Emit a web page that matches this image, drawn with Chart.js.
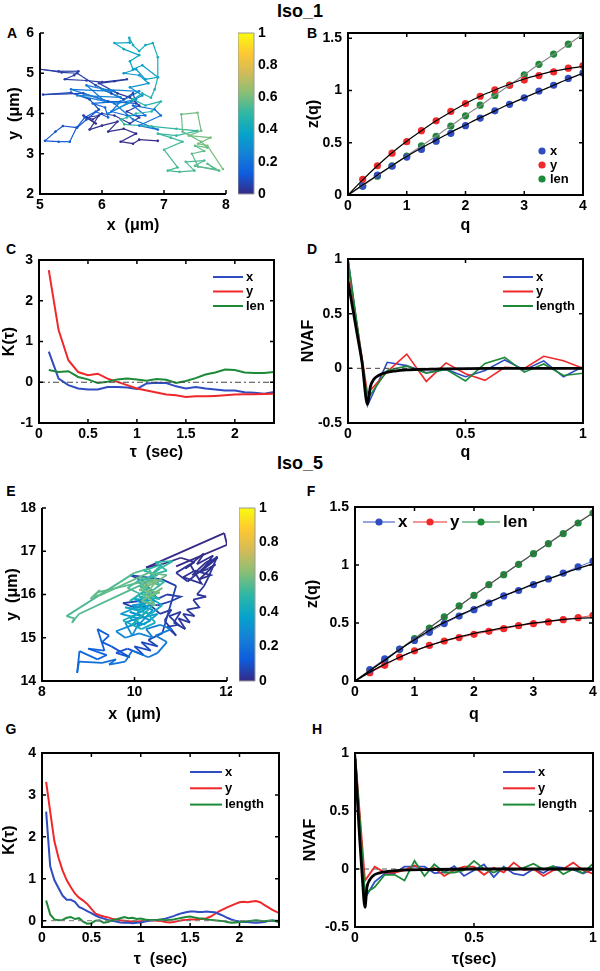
<!DOCTYPE html>
<html>
<head>
<meta charset="utf-8">
<script src="https://cdn.jsdelivr.net/npm/chart.js@4.4.1/dist/chart.umd.min.js"></script>
<style>
  body { margin: 0; background: #fff; }
  #fig { position: relative; width: 600px; height: 971px; font-family: Arial, "Liberation Sans", sans-serif; font-weight: bold; color: #000; }
  #fig canvas { position: absolute; }
  .lbl { position: absolute; font-size: 14px; transform: translate(-50%, -50%); }
  .ttl { position: absolute; font-size: 18px; transform: translate(-50%, -50%); }
</style>
</head>
<body>
<div id="fig">
  <div class="ttl" style="left:300px;top:11px">Iso_1</div>
  <div class="ttl" style="left:300px;top:463px">Iso_5</div>
  <div class="lbl" style="left:12px;top:33px">A</div>
  <div class="lbl" style="left:312px;top:33px">B</div>
  <div class="lbl" style="left:11px;top:249px">C</div>
  <div class="lbl" style="left:312px;top:249px">D</div>
  <div class="lbl" style="left:11px;top:491px">E</div>
  <div class="lbl" style="left:311px;top:491px">F</div>
  <div class="lbl" style="left:11px;top:729px">G</div>
  <div class="lbl" style="left:317px;top:729px">H</div>
</div>
<script>
"use strict";

// Data

// A - trajectory Iso_1 (um), in time order, split in colour phases
let aX = [6.9, 6.6, 6.5, 6.3, 6.55, 6.35, 6.1, 6.25, 6.0, 5.8, 5.95, 5.75, 5.9, 5.7, 5.85, 6.0, 6.2, 6.45, 6.6, 6.4, 6.6, 6.45, 6.25, 5.95, 6.2, 6.4, 6.0, 5.75, 5.4, 5.55, 5.62, 5.3, 5.0, 5.35, 5.6, 5.9, 6.15, 6.35, 6.5, 6.55,
  6.1, 5.7, 5.05, 5.5, 5.8, 5.95, 5.75, 5.6, 5.37, 5.25, 5.08, 5.3, 5.48, 5.59, 5.72, 5.9, 6.1, 6.05, 5.85, 6.3, 6.15, 6.4, 6.7, 6.5, 6.85, 6.95, 6.6, 6.9, 6.5, 6.2,
  5.5, 6.2, 5.75, 6.05, 5.6, 6.3, 6.0, 6.6, 6.25, 6.55, 6.1, 6.4, 6.65, 6.45, 6.75, 6.6, 6.35, 6.55, 6.7, 6.9, 6.65, 6.5,
  6.45, 6.6, 6.35, 6.2, 6.45, 6.44, 6.5, 6.6, 6.7, 6.82, 6.9, 6.9, 6.85, 6.79, 6.65, 6.5, 6.7, 6.95, 6.8, 6.55, 6.4, 6.3,
  6.36, 6.8, 7.2, 7.54, 7.2, 6.9, 7.11, 7.3, 7.0, 7.22, 7.06, 7.25, 7.49, 7.35, 7.65, 7.5, 7.89, 7.7, 7.82, 7.55, 7.45, 7.65, 7.5, 7.7, 7.6, 7.3, 7.28, 7.54, 7.6, 7.4, 7.75, 7.55, 7.7, 7.95];
let aY = [3.32, 3.35, 3.25, 3.3, 3.5, 3.62, 3.55, 3.8, 3.7, 3.6, 3.95, 3.9, 3.75, 3.95, 3.85, 4.0, 3.95, 3.75, 3.9, 4.05, 4.2, 4.4, 4.5, 4.75, 4.8, 4.85, 4.78, 4.82, 4.85, 4.95, 5.05, 5.05, 5.1, 5.02, 5.0, 4.7, 4.5, 4.35, 4.5, 4.25,
  4.3, 4.5, 4.47, 4.52, 4.35, 4.1, 3.85, 3.65, 3.69, 3.55, 3.32, 3.3, 3.3, 3.65, 3.9, 4.05, 3.9, 4.15, 4.25, 4.3, 4.05, 3.95, 3.95, 4.2, 4.1, 3.95, 3.7, 3.6, 3.85, 4.25,
  4.6, 4.55, 4.7, 4.3, 4.45, 4.4, 4.6, 4.55, 4.25, 4.35, 4.0, 4.25, 4.45, 4.65, 4.75, 4.95, 5.0, 5.1, 4.85, 4.9, 5.2, 5.1,
  5.3, 5.45, 5.6, 5.75, 5.76, 5.88, 5.7, 5.55, 5.7, 5.75, 5.4, 4.9, 4.6, 4.39, 4.5, 4.35, 4.2, 4.3, 4.05, 4.0, 3.9, 3.85,
  3.73, 3.68, 3.62, 3.57, 3.45, 3.5, 3.4, 3.3, 3.1, 2.66, 2.58, 2.55, 2.58, 2.8, 2.83, 2.7, 2.58, 2.75, 2.62, 2.68, 3.0, 3.07, 3.2, 3.15, 3.3, 3.55, 3.98, 4.02, 3.57, 3.45, 3.4, 3.25, 3.2, 2.62];
let aPhaseN = [40, 30, 22, 22, 34];
let aPhaseT = [0, 0.06, 0.22, 0.38, 0.5, 0.62];

// E - trajectory Iso_5 (um), in time order, split in colour phases
let eX = [10.9, 12.0, 11.94, 10.25, 10.6, 11.0, 11.3, 11.1, 11.5, 11.35, 11.7, 11.45, 11.8, 11.55, 11.25, 11.6, 11.75, 11.4, 11.65, 11.3, 11.05, 11.45, 11.2, 10.9, 11.15, 11.79, 11.6, 11.5, 11.35, 11.55,
  11.27, 11.4, 11.13, 11.3, 11.05, 11.2, 10.95, 11.1, 10.85, 11.0, 10.75, 10.95, 10.7, 10.9, 10.65, 10.8, 10.55, 10.35, 10.0, 9.75, 10.1, 10.5, 10.8, 11.0, 10.7, 10.5, 10.2, 9.9, 10.6, 10.9,
  10.6, 10.3, 10.5, 10.15, 10.35, 10.0, 10.2, 9.85, 9.6, 9.9, 9.5, 9.3, 9.45, 9.2, 9.35, 9.0, 9.4, 9.2, 8.81, 8.76,
  8.8, 9.3, 9.6, 9.45, 9.8, 9.95, 10.3, 10.5, 10.7, 10.45, 10.8, 10.55, 10.25, 10.4, 10.1, 9.8, 9.6, 9.85, 10.1, 9.95,
  9.8, 10.2, 9.9, 10.35, 10.05, 10.4, 9.95, 10.25, 9.7, 10.1, 10.5, 10.2, 9.9, 10.3, 10.0, 10.45, 10.15, 9.8, 10.35, 10.6, 10.3, 10.05, 9.75, 10.15, 10.45, 10.25, 9.95, 10.4, 10.1, 10.55, 10.2, 9.9,
  10.3, 10.05, 10.5, 10.2, 10.6, 10.35, 10.7, 10.45, 10.83, 10.55, 10.25, 10.65, 10.4, 10.1, 10.45, 10.15, 9.85, 10.2, 10.55, 10.3, 10.0, 8.53, 8.7, 8.65, 8.8, 9.6,
  10.4, 9.2, 9.05, 9.25, 9.1, 9.3, 10.3, 10.7, 10.4, 10.1, 10.55, 10.3, 10.6, 10.15, 10.45, 10.25, 10.5, 10.2];
let eY = [16.65, 17.15, 17.42, 16.62, 16.7, 16.85, 16.75, 16.6, 16.95, 16.7, 16.9, 16.55, 16.85, 16.75, 16.45, 16.6, 16.7, 16.35, 16.45, 16.55, 16.4, 16.25, 16.7, 16.5, 16.3, 16.88, 16.4, 16.19, 16.0, 15.95,
  15.88, 15.7, 15.65, 15.5, 15.55, 15.35, 15.45, 15.2, 15.35, 15.6, 15.5, 15.3, 15.25, 15.05, 15.4, 15.65, 15.55, 15.75, 15.7, 15.8, 15.85, 15.75, 15.85, 15.95, 16.0, 15.9, 16.3, 16.45, 16.35, 16.2,
  15.1, 14.95, 14.8, 14.9, 14.7, 14.8, 14.6, 14.75, 14.65, 14.55, 14.8, 14.9, 15.05, 15.2, 14.7, 14.75, 14.6, 14.5, 14.69, 14.19,
  14.45, 14.42, 14.5, 14.38, 14.45, 14.7, 14.55, 14.65, 14.9, 15.05, 15.2, 15.3, 15.2, 15.0, 15.1, 15.0, 15.15, 15.25, 15.35, 15.05,
  15.35, 15.5, 15.6, 15.4, 15.25, 15.65, 15.75, 15.8, 15.55, 15.45, 15.55, 15.3, 15.45, 15.7, 15.9, 15.85, 15.65, 15.7, 15.55, 15.75, 15.95, 15.55, 15.4, 15.2, 15.35, 15.6, 15.3, 15.75, 15.95, 15.9, 16.05, 15.85,
  16.15, 16.3, 16.45, 16.55, 16.7, 16.45, 16.55, 16.75, 16.77, 16.6, 16.35, 16.3, 16.1, 16.2, 15.95, 16.0, 16.15, 16.4, 16.2, 16.6, 16.5, 15.5, 15.45, 15.35, 15.55, 15.95,
  16.35, 16.05, 15.9, 16.1, 15.95, 16.0, 16.5, 16.45, 16.25, 16.1, 16.05, 15.95, 16.15, 15.85, 15.75, 16.0, 16.35, 16.2];
let ePhaseN = [60, 40, 32, 44];
let ePhaseT = [0, 0.06, 0.3, 0.48, 0.62];

// B, F - z(q)
let qVals = [0.25, 0.5, 0.75, 1, 1.25, 1.5, 1.75, 2, 2.25, 2.5, 2.75, 3, 3.25, 3.5, 3.75, 4];
let qFit = [0, 0.25, 0.5, 0.75, 1, 1.25, 1.5, 1.75, 2, 2.25, 2.5, 2.75, 3, 3.25, 3.5, 3.75, 4];
let bX = [0.085, 0.19, 0.275, 0.363, 0.436, 0.515, 0.59, 0.663, 0.736, 0.805, 0.868, 0.93, 0.995, 1.05, 1.115, 1.168];
let bY = [0.15, 0.28, 0.4, 0.51, 0.615, 0.71, 0.8, 0.875, 0.945, 1.005, 1.05, 1.1, 1.143, 1.178, 1.213, 1.238];
let bLen = [0.085, 0.18, 0.28, 0.373, 0.47, 0.562, 0.66, 0.758, 0.859, 0.953, 1.052, 1.15, 1.25, 1.348, 1.443, 1.538];
let bFitX = [0, 0.095, 0.19, 0.28, 0.37, 0.45, 0.525, 0.6, 0.67, 0.74, 0.805, 0.87, 0.93, 0.99, 1.05, 1.11, 1.165];
let bFitY = [0, 0.145, 0.28, 0.405, 0.515, 0.615, 0.71, 0.795, 0.875, 0.945, 1.005, 1.06, 1.11, 1.15, 1.185, 1.21, 1.23];
let bFitLen = [0, 0.09, 0.185, 0.28, 0.375, 0.47, 0.565, 0.66, 0.76, 0.855, 0.955, 1.05, 1.15, 1.25, 1.345, 1.44, 1.54];
let fX = [0.098, 0.19, 0.275, 0.35, 0.42, 0.495, 0.56, 0.615, 0.672, 0.733, 0.78, 0.83, 0.88, 0.93, 0.983, 1.034];
let fY = [0.072, 0.135, 0.207, 0.26, 0.307, 0.345, 0.374, 0.402, 0.428, 0.451, 0.477, 0.494, 0.509, 0.529, 0.546, 0.566];
let fLen = [0.092, 0.178, 0.273, 0.365, 0.457, 0.552, 0.647, 0.738, 0.83, 0.917, 1.006, 1.098, 1.184, 1.27, 1.362, 1.448];
let fFitX = [0, 0.09, 0.18, 0.27, 0.355, 0.435, 0.505, 0.565, 0.625, 0.68, 0.735, 0.785, 0.835, 0.88, 0.925, 0.97, 1.01];
let fFitY = [0, 0.075, 0.145, 0.205, 0.26, 0.305, 0.345, 0.38, 0.41, 0.435, 0.46, 0.48, 0.5, 0.515, 0.53, 0.54, 0.545];
let fFitLen = [0, 0.09, 0.18, 0.275, 0.365, 0.46, 0.55, 0.645, 0.74, 0.83, 0.92, 1.01, 1.1, 1.185, 1.275, 1.365, 1.45];

// C - K(tau), Iso_1
let cTau = [0.1, 0.2, 0.3, 0.4, 0.5, 0.6, 0.7, 0.8, 0.9, 1.0, 1.1, 1.2, 1.3, 1.4, 1.5, 1.6, 1.7, 1.8, 1.9, 2.0, 2.1, 2.2, 2.3, 2.4];
let cX = [0.75, 0.09, -0.07, -0.155, -0.18, -0.18, -0.115, -0.115, -0.13, -0.165, -0.03, -0.01, -0.02, -0.1, -0.155, -0.115, -0.155, -0.18, -0.2, -0.2, -0.245, -0.255, -0.28, -0.24];
let cY = [2.75, 1.28, 0.54, 0.25, 0.17, 0.21, 0.09, 0.01, -0.07, -0.155, -0.2, -0.25, -0.3, -0.32, -0.36, -0.345, -0.345, -0.335, -0.32, -0.3, -0.295, -0.295, -0.29, -0.28];
let cLen = [0.3, 0.25, 0.27, 0.13, 0.07, -0.02, 0.01, 0.07, 0.09, 0.065, 0.04, 0.08, 0.06, -0.02, 0.03, 0.1, 0.19, 0.24, 0.31, 0.3, 0.24, 0.23, 0.23, 0.25];

// D - NVAF, Iso_1
let dLag = [0, 0.083, 0.167, 0.25, 0.333, 0.417, 0.5, 0.583, 0.667, 0.75, 0.833, 0.917, 1];
let dX = [1, -0.34, 0.055, 0.025, -0.04, -0.01, -0.077, -0.02, 0.077, -0.015, 0.068, -0.077, 0.015];
let dY = [0.94, -0.23, -0.03, 0.13, -0.12, 0.05, -0.05, -0.11, 0.01, 0, 0.11, 0.07, 0];
let dLen = [1, -0.28, -0.02, 0.02, -0.045, -0.01, -0.115, 0.045, 0.1, -0.035, 0.04, -0.065, -0.045];
let dFitLag = [0, 0.02, 0.04, 0.06, 0.083, 0.095, 0.11, 0.13, 0.16, 0.2, 0.25, 0.3, 0.4, 0.6, 1];
let dFitVal = [0.8, 0.55, 0.3, 0.05, -0.33, -0.17, -0.1, -0.065, -0.04, -0.025, -0.015, -0.01, -0.005, 0, 0];

// G - K(tau), Iso_5
let gTau = [0.042, 0.083, 0.125, 0.167, 0.208, 0.25, 0.292, 0.333, 0.375, 0.417, 0.458, 0.5, 0.542, 0.583, 0.625, 0.667, 0.708, 0.75, 0.792, 0.833, 0.875, 0.917, 0.958, 1,
  1.042, 1.083, 1.125, 1.167, 1.208, 1.25, 1.292, 1.333, 1.375, 1.417, 1.458, 1.5, 1.542, 1.583, 1.625, 1.667, 1.708, 1.75, 1.792, 1.833, 1.875, 1.917, 1.958, 2,
  2.042, 2.083, 2.125, 2.167, 2.208, 2.25, 2.292, 2.333, 2.375, 2.417];
let gX = [2.6, 1.3, 0.97, 0.78, 0.6, 0.5, 0.5, 0.45, 0.33, 0.28, 0.23, 0.18, 0.12, 0.08, 0.05, 0.02, 0, -0.02, -0.04, -0.05, -0.05, -0.06, -0.05, -0.04,
  -0.02, 0, 0.01, 0.02, 0.03, 0.05, 0.08, 0.11, 0.15, 0.18, 0.2, 0.22, 0.22, 0.21, 0.21, 0.22, 0.21, 0.2, 0.16, 0.12, 0.07, 0.03, 0, -0.02,
  -0.03, -0.03, -0.04, -0.05, -0.04, -0.03, -0.01, 0, 0, 0];
let gY = [3.31, 2.6, 1.9, 1.5, 1.2, 0.97, 0.8, 0.65, 0.55, 0.48, 0.4, 0.28, 0.17, 0.13, 0.1, 0.08, 0.05, 0.03, 0.01, 0, -0.01, -0.02, -0.02, -0.01,
  0, 0.01, 0.01, 0, -0.01, -0.03, -0.04, -0.03, -0.01, 0.01, 0.02, 0.03, 0.03, 0.04, 0.04, 0.06, 0.1, 0.16, 0.22, 0.27, 0.32, 0.36, 0.4, 0.44,
  0.45, 0.44, 0.46, 0.47, 0.44, 0.38, 0.32, 0.26, 0.21, 0.18];
let gLen = [0.48, 0.15, 0.03, 0.01, 0.02, 0.07, 0.09, 0.04, 0.06, -0.02, -0.07, -0.06, 0, 0.01, -0.05, -0.03, 0.01, 0.03, 0.06, 0.09, 0.06, 0.07, 0.04, 0.05,
  0.03, 0.02, 0.01, 0.02, 0.03, 0.01, 0.02, 0.03, 0.05, 0.07, 0.09, 0.1, 0.08, 0.06, 0.05, 0.03, 0.02, 0.01, 0, -0.01, -0.03, -0.05, -0.04, -0.03,
  -0.02, -0.01, 0, 0.01, 0, -0.01, 0, 0.01, -0.02, -0.05];

// H - NVAF, Iso_5
let hLag = [0, 0.042, 0.083, 0.125, 0.167, 0.208, 0.25, 0.292, 0.333, 0.375, 0.417, 0.458, 0.5, 0.542, 0.583, 0.625, 0.667, 0.708, 0.75, 0.792, 0.833, 0.875, 0.917, 0.958, 1];
let hX = [1, -0.25, -0.11, -0.04, -0.035, 0.02, 0.02, 0.02, -0.035, -0.03, 0.025, -0.06, -0.01, 0.04, -0.07, 0.02, -0.04, -0.055, 0, -0.035, 0.02, 0.01, -0.005, -0.04, 0];
let hY = [1, -0.1, 0.02, -0.03, -0.03, -0.01, 0.03, -0.01, 0.01, -0.06, -0.01, 0.02, 0.02, -0.05, 0.01, -0.03, 0.055, -0.01, 0, -0.06, -0.01, 0, 0.055, -0.01, -0.04];
let hLen = [1, -0.21, -0.155, -0.05, -0.05, -0.1, 0.07, -0.06, 0.04, -0.03, -0.03, -0.01, 0.07, 0, -0.03, 0.01, -0.01, 0.01, 0.045, -0.005, 0.025, -0.045, 0, -0.035, 0.045];
let hFitLag = [0, 0.01, 0.02, 0.03, 0.042, 0.05, 0.06, 0.075, 0.1, 0.15, 0.2, 0.3, 0.5, 1];
let hFitVal = [0.95, 0.6, 0.25, -0.05, -0.33, -0.16, -0.1, -0.06, -0.035, -0.018, -0.01, -0.005, 0, 0];

// Tick labels
let aXTicks = [5, 6, 7, 8], aYTicks = [2, 3, 4, 5, 6];
let eXTicks = [8, 10, 12], eYTicks = [14, 15, 16, 17, 18];
let qTicks = [0, 1, 2, 3, 4], zTicks = [0, 0.5, 1, 1.5];
let tauTicks = [0, 0.5, 1, 1.5, 2];
let cYTicks = [-1, 0, 1, 2, 3], gYTicks = [0, 1, 2, 3, 4];
let lagTicks = [0, 0.5, 1], nvafTicks = [-0.5, 0, 0.5, 1];
let cbTicks = [0, 0.2, 0.4, 0.6, 0.8, 1];

// Colours
let BLUE = "#2f4cc0", RED = "#f0282a", GREEN = "#1d8a3a", GREY = "#8a8a8a";
let parulaStops = ["#352a87", "#0f5cdd", "#1481d6", "#06a4ca", "#2eb7a4", "#87bf77", "#d1bb59", "#fec832", "#f9fb0e"];

const FONT = "Arial, 'Liberation Sans', sans-serif";
const tickFont = { family: FONT, size: 14, weight: "bold" };
const titleFont = { family: FONT, size: 16, weight: "bold", lineHeight: 1 };
const fig = document.getElementById("fig");

function hexRgb(h) {
  return [1, 3, 5].map(i => parseInt(h.substr(i, 2), 16));
}

function parula(t) {
  t = Math.max(0, Math.min(1, t));
  let s = t * (parulaStops.length - 1);
  let i = Math.min(Math.floor(s), parulaStops.length - 2);
  let f = s - i;
  let a = hexRgb(parulaStops[i]), b = hexRgb(parulaStops[i + 1]);
  let c = a.map((v, k) => Math.round(v + (b[k] - v) * f));
  return `rgb(${c[0]},${c[1]},${c[2]})`;
}

function pts(xs, ys) {
  return xs.map((x, i) => ({ x: x, y: ys[i] }));
}

// Axes lines and inward ticks, drawn over the data like matlab does
const framePlugin = {
  id: "frame",
  afterDatasetsDraw(chart, args, o) {
    if (!o || !o.show) return;
    let { ctx, chartArea: a, scales } = chart;
    ctx.save();
    ctx.strokeStyle = o.color || "#000";
    ctx.lineWidth = o.width || 2;
    ctx.beginPath();
    if (o.box) {
      ctx.rect(a.left, a.top, a.right - a.left, a.bottom - a.top);
    } else {
      ctx.moveTo(a.left, a.top);
      ctx.lineTo(a.left, a.bottom);
      ctx.lineTo(a.right, a.bottom);
    }
    ctx.stroke();
    if (o.ticks !== false) {
      let L = 4;
      ctx.lineWidth = 1.5;
      ctx.beginPath();
      scales.x.ticks.forEach(t => {
        let px = scales.x.getPixelForValue(t.value);
        ctx.moveTo(px, a.bottom); ctx.lineTo(px, a.bottom - L);
        if (o.box) { ctx.moveTo(px, a.top); ctx.lineTo(px, a.top + L); }
      });
      scales.y.ticks.forEach(t => {
        let py = scales.y.getPixelForValue(t.value);
        ctx.moveTo(a.left, py); ctx.lineTo(a.left + L, py);
        if (o.box) { ctx.moveTo(a.right, py); ctx.lineTo(a.right - L, py); }
      });
      ctx.stroke();
    }
    ctx.restore();
  }
};

// Legend drawn inside the axes
const keyPlugin = {
  id: "keys",
  afterDraw(chart, args, o) {
    if (!o || !o.items) return;
    let { ctx, chartArea: a } = chart;
    ctx.save();
    ctx.font = "bold " + o.size + "px " + FONT;
    ctx.textBaseline = "middle";
    o.items.forEach((it, i) => {
      let x0 = a.left + (it.x !== undefined ? it.x : o.x);
      let y = a.top + (it.y !== undefined ? it.y : o.y + i * o.dy);
      let len = it.len !== undefined ? it.len : o.len;
      let x1 = x0 + len;
      if (len > 0) {
        ctx.strokeStyle = it.color;
        ctx.lineWidth = o.lw || 2;
        ctx.beginPath(); ctx.moveTo(x0, y); ctx.lineTo(x1, y); ctx.stroke();
      }
      if (o.dot) {
        ctx.fillStyle = it.color;
        ctx.beginPath(); ctx.arc((x0 + x1) / 2, y, o.dot, 0, Math.PI * 2); ctx.fill();
      }
      ctx.fillStyle = "#000";
      ctx.fillText(it.label, x1 + o.gap, y);
    });
    ctx.restore();
  }
};

Chart.register(framePlugin, keyPlugin);

function axis(min, max, ticks, title, pad) {
  return {
    type: "linear",
    min: min,
    max: max,
    afterBuildTicks: s => { s.ticks = ticks.map(v => ({ value: v })); },
    ticks: { color: "#000", font: tickFont, padding: pad, autoSkip: false, maxRotation: 0, callback: v => String(v) },
    grid: { display: false, drawTicks: false },
    border: { display: false },
    title: { display: !!title, text: title, color: "#000", font: titleFont, padding: 0 }
  };
}

function addCanvas(box) {
  let cv = document.createElement("canvas");
  cv.width = box[2] - box[0];
  cv.height = box[3] - box[1];
  cv.style.left = box[0] + "px";
  cv.style.top = box[1] + "px";
  fig.appendChild(cv);
  return cv;
}

// box = canvas [left, top, right, bottom], area = plot area [l, t, r, b], page pixels
function makePanel(box, area, datasets, sx, sy, plugins) {
  let cv = addCanvas(box);
  sx.afterFit = s => { s.height = box[3] - area[3]; s.paddingLeft = 0; s.paddingRight = 0; };
  sy.afterFit = s => { s.width = area[0] - box[0]; s.paddingTop = 0; s.paddingBottom = 0; };
  return new Chart(cv, {
    type: "scatter",
    data: { datasets: datasets },
    options: {
      responsive: false,
      animation: false,
      events: [],
      layout: { padding: { left: 0, top: area[1] - box[1], right: box[2] - area[2], bottom: 0 } },
      scales: { x: sx, y: sy },
      plugins: Object.assign({ legend: { display: false }, tooltip: { enabled: false } }, plugins)
    }
  });
}

function makeColorbar(box, area) {
  let cv = addCanvas(box);
  let sy = axis(0, 1, cbTicks, "", 4);
  sy.position = "right";
  sy.afterFit = s => { s.width = box[2] - area[2]; s.paddingTop = 0; s.paddingBottom = 0; };
  return new Chart(cv, {
    type: "bar",
    data: {
      labels: [""],
      datasets: [{
        data: [[0, 1]],
        barPercentage: 1,
        categoryPercentage: 1,
        borderWidth: 0,
        backgroundColor: c => {
          let a = c.chart.chartArea;
          if (!a) return "#888";
          let g = c.chart.ctx.createLinearGradient(0, a.bottom, 0, a.top);
          parulaStops.forEach((s, i) => g.addColorStop(i / (parulaStops.length - 1), s));
          return g;
        }
      }]
    },
    options: {
      responsive: false,
      animation: false,
      events: [],
      layout: { padding: { left: area[0] - box[0], top: area[1] - box[1], right: 0, bottom: box[3] - area[3] } },
      scales: { x: { display: false }, y: sy },
      plugins: { legend: { display: false }, tooltip: { enabled: false }, frame: { show: true, box: true, width: 1, color: "#9a9a9a", ticks: false } }
    }
  });
}

function line(data, color, w, extra) {
  return Object.assign({ data: data, showLine: true, borderColor: color, borderWidth: w, pointRadius: 0, fill: false, tension: 0 }, extra || {});
}

function dots(data, color, r) {
  return { data: data, showLine: false, backgroundColor: color, borderColor: color, borderWidth: 0, pointRadius: r };
}

// colour value of point i from the phase lengths and phase time limits
function phaseTime(i, counts, times) {
  let start = 0;
  for (let p = 0; p < counts.length; p++) {
    if (i < start + counts[p] || p === counts.length - 1) {
      let f = (i - start) / counts[p];
      return times[p] + (times[p + 1] - times[p]) * Math.min(f, 1);
    }
    start += counts[p];
  }
  return times[times.length - 1];
}

function track(xs, ys, counts, times, w, r) {
  let col = i => parula(phaseTime(i, counts, times));
  return {
    data: pts(xs, ys),
    showLine: true,
    borderWidth: w,
    borderColor: col(0),
    segment: { borderColor: c => col(c.p0DataIndex) },
    pointRadius: r,
    pointBorderWidth: 0,
    pointBackgroundColor: c => col(c.dataIndex)
  };
}

let smooth = { cubicInterpolationMode: "monotone" };

// A
makePanel([7, 20, 232, 234], [40, 33, 226, 194],
  [track(aX, aY, aPhaseN, aPhaseT, 1.2, 1.3)],
  axis(5, 8, aXTicks, "x  (\u03bcm)", 3), axis(2, 6, aYTicks, "y  (\u03bcm)", 6),
  { frame: { show: true, box: false } });
makeColorbar([238, 25, 292, 202], [238, 33, 254, 194]);

// B
makePanel([306, 20, 598, 234], [348, 33, 583, 195],
  [line(pts(qFit, bFitX), "#000", 1.2, smooth), line(pts(qFit, bFitY), "#000", 1.2, smooth), line(pts(qFit, bFitLen), GREY, 1.2, smooth),
   dots(pts(qVals, bX), BLUE, 3.6), dots(pts(qVals, bY), RED, 3.6), dots(pts(qVals, bLen), GREEN, 3.6)],
  axis(0, 4, qTicks, "q", 3), axis(0, 1.55, zTicks, "z(q)", 6),
  { frame: { show: true, box: true },
    keys: { x: 194, y: 118, dy: 14, len: 0, gap: 8, dot: 3.6, size: 13,
      items: [{ label: "x", color: BLUE }, { label: "y", color: RED }, { label: "len", color: GREEN }] } });

// C
makePanel([2, 250, 290, 461], [39, 260, 274, 423],
  [line(pts([0, 2.4], [0, 0]), "#444", 1, { borderDash: [6, 3, 2, 3] }),
   line(pts(cTau, cLen), GREEN, 2), line(pts(cTau, cY), RED, 2), line(pts(cTau, cX), BLUE, 2)],
  axis(0, 2.4, tauTicks, "\u03c4  (sec)", 3), axis(-1, 3, cYTicks, "K(\u03c4)", 6),
  { frame: { show: true, box: true },
    keys: { x: 174, y: 17, dy: 14.5, len: 30, gap: 3, size: 13,
      items: [{ label: "x", color: BLUE }, { label: "y", color: RED }, { label: "len", color: GREEN }] } });

// D
makePanel([301, 250, 598, 461], [348, 259, 583, 423],
  [line(pts(dFitLag, dFitVal), "#000", 2.8, smooth),
   line(pts([0, 1], [0, 0]), "#444", 1, { borderDash: [5, 4] }),
   line(pts(dLag, dLen), GREEN, 1.6), line(pts(dLag, dY), RED, 1.6), line(pts(dLag, dX), BLUE, 1.6)],
  axis(0, 1, lagTicks, "q", 3), axis(-0.5, 1, nvafTicks, "NVAF", 6),
  { frame: { show: true, box: true },
    keys: { x: 155, y: 18, dy: 14.5, len: 30, gap: 3, size: 13,
      items: [{ label: "x", color: BLUE }, { label: "y", color: RED }, { label: "length", color: GREEN }] } });

// E
makePanel([5, 495, 232, 723], [42, 508, 227, 681],
  [track(eX, eY, ePhaseN, ePhaseT, 1.8, 0)],
  axis(8, 12, eXTicks, "x  (\u03bcm)", 3), axis(14, 18, eYTicks, "y  (\u03bcm)", 6),
  { frame: { show: true, box: false } });
makeColorbar([239, 498, 292, 691], [239, 508, 255, 681]);

// F
makePanel([305, 495, 598, 723], [355, 507, 593, 681],
  [line(pts(qFit, fFitX), "#000", 1.3, smooth), line(pts(qFit, fFitY), "#000", 1.3, smooth), line(pts(qFit, fFitLen), "#555", 1.2, smooth),
   line(pts(qVals, fX), BLUE, 0.8, { pointRadius: 3.6, pointBackgroundColor: BLUE, pointBorderWidth: 0 }),
   line(pts(qVals, fY), RED, 0.8, { pointRadius: 3.6, pointBackgroundColor: RED, pointBorderWidth: 0 }),
   line(pts(qVals, fLen), GREEN, 0.8, { pointRadius: 3.6, pointBackgroundColor: GREEN, pointBorderWidth: 0 })],
  axis(0, 4, qTicks, "q", 3), axis(0, 1.5, zTicks, "z(q)", 6),
  { frame: { show: true, box: true },
    keys: { y: 15, dy: 0, gap: 3, dot: 3.6, lw: 1, size: 17,
      items: [{ label: "x", color: BLUE, x: 8, len: 32 }, { label: "y", color: RED, x: 58, len: 34, y: 15 }, { label: "len", color: GREEN, x: 107, len: 38, y: 15 }] } });

// G
makePanel([2, 740, 290, 968], [42, 753, 279, 927],
  [line(pts([0, 2.4], [0, 0]), "#777", 1, { borderDash: [5, 4] }),
   line(pts(gTau, gLen), GREEN, 2), line(pts(gTau, gX), BLUE, 2), line(pts(gTau, gY), RED, 2)],
  axis(0, 2.4, tauTicks, "\u03c4  (sec)", 3), axis(-0.15, 4, gYTicks, "K(\u03c4)", 6),
  { frame: { show: true, box: true },
    keys: { x: 148, y: 19, dy: 16.3, len: 32, gap: 3, size: 13,
      items: [{ label: "x", color: BLUE }, { label: "y", color: RED }, { label: "length", color: GREEN }] } });

// H
makePanel([303, 740, 598, 968], [355, 753, 593, 927],
  [line(pts(hFitLag, hFitVal), "#000", 2.8, smooth),
   line(pts([0, 1], [0, 0]), "#555", 1, { borderDash: [5, 4] }),
   line(pts(hLag, hLen), GREEN, 1.8), line(pts(hLag, hY), RED, 1.8), line(pts(hLag, hX), BLUE, 1.8)],
  axis(0, 1, lagTicks, "\u03c4(sec)", 3), axis(-0.5, 1, nvafTicks, "NVAF", 6),
  { frame: { show: true, box: true },
    keys: { x: 148, y: 19, dy: 16.3, len: 32, gap: 3, size: 13,
      items: [{ label: "x", color: BLUE }, { label: "y", color: RED }, { label: "length", color: GREEN }] } });
</script>
</body>
</html>
